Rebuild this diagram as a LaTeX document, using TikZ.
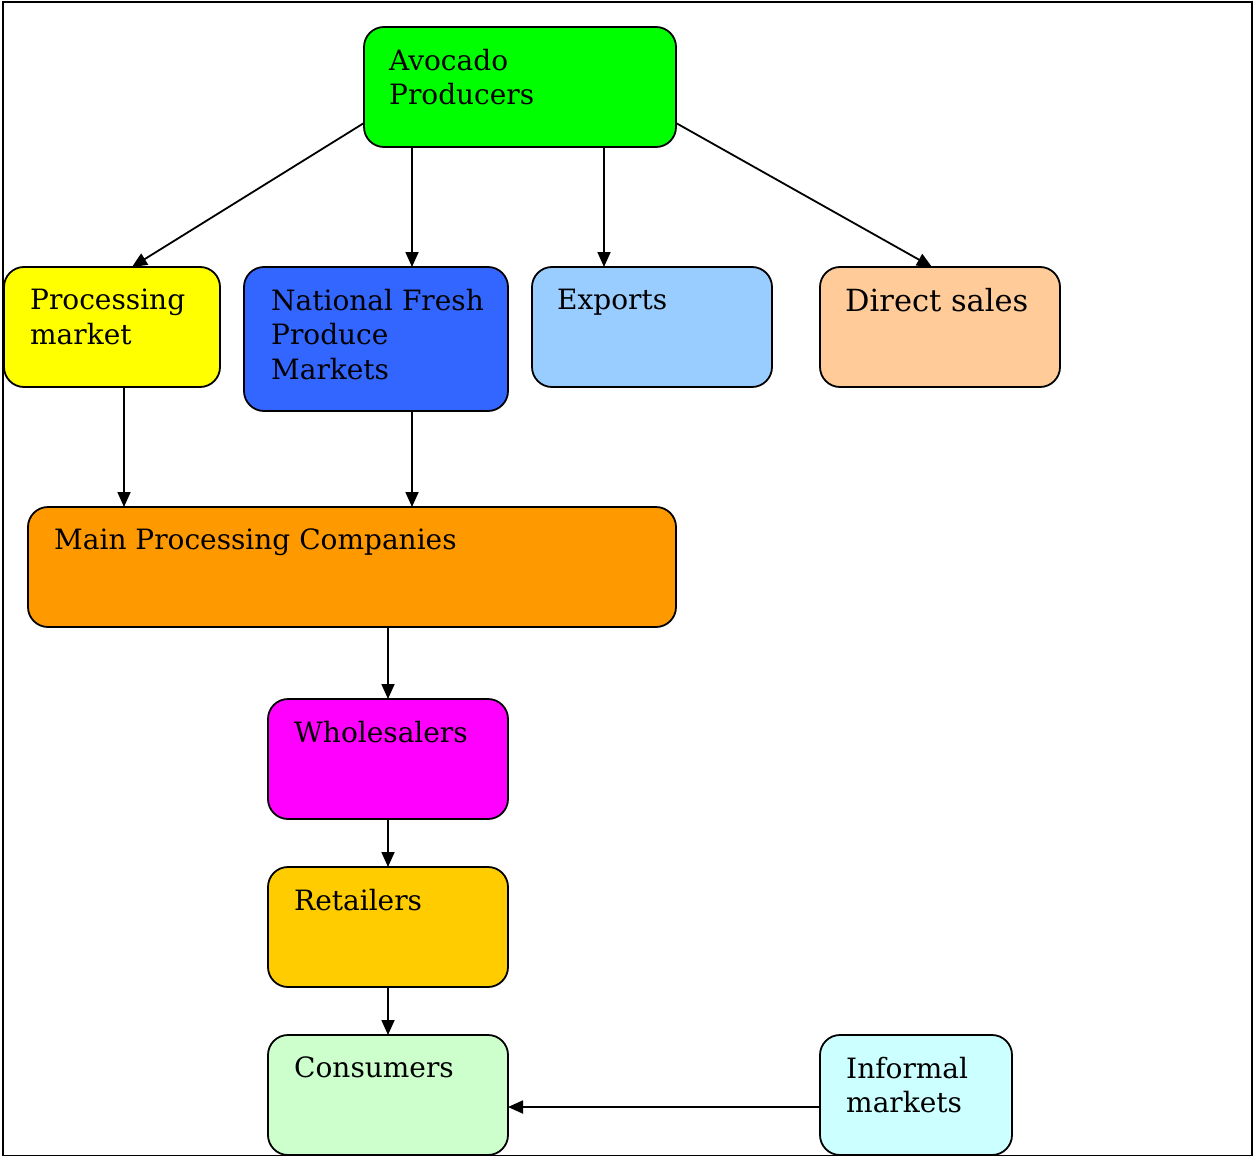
\documentclass[tikz,border=0pt]{standalone}
\usepackage{fontspec}
\setmainfont{DejaVu Serif}
\usetikzlibrary{arrows.meta}
\begin{document}
\begin{tikzpicture}[x=1pt,y=-1pt,
  box/.style={draw=black,line width=1.8pt,rounded corners=20pt,anchor=north west,inner sep=0pt,outer sep=0pt},
  lbl/.style={anchor=north west,inner sep=0pt,align=left,font=\fontsize{28}{34.5}\selectfont},
  arr/.style={line width=1.8pt,-{Triangle[length=15pt,width=13pt]}}]
\useasboundingbox (0,0) rectangle (1253,1156);
\node[draw=black,line width=1.8pt,anchor=north west,inner sep=0pt,minimum width=1249pt,minimum height=1154pt] (frame) at (2,1) {};
\definecolor{cgreen}{HTML}{00FF00}
\definecolor{cyellow}{HTML}{FFFF00}
\definecolor{cblue}{HTML}{3366FF}
\definecolor{clblue}{HTML}{99CCFF}
\definecolor{cpeach}{HTML}{FFCC99}
\definecolor{corange}{HTML}{FF9900}
\definecolor{cmag}{HTML}{FF00FF}
\definecolor{cgold}{HTML}{FFCC00}
\definecolor{cmint}{HTML}{CCFFCC}
\definecolor{ccyan}{HTML}{CCFFFF}
% boxes
\node[box,fill=cgreen,minimum width=312pt,minimum height=120pt] (avo) at (364,27) {};
\node[box,fill=cyellow,minimum width=216pt,minimum height=120pt] (proc) at (4,267) {};
\node[box,fill=cblue,minimum width=264pt,minimum height=144pt] (nat) at (244,267) {};
\node[box,fill=clblue,minimum width=240pt,minimum height=120pt] (exp) at (532,267) {};
\node[box,fill=cpeach,minimum width=240pt,minimum height=120pt] (dir) at (820,267) {};
\node[box,fill=corange,minimum width=648pt,minimum height=120pt] (main) at (28,507) {};
\node[box,fill=cmag,minimum width=240pt,minimum height=120pt] (whole) at (268,699) {};
\node[box,fill=cgold,minimum width=240pt,minimum height=120pt] (ret) at (268,867) {};
\node[box,fill=cmint,minimum width=240pt,minimum height=120pt] (cons) at (268,1035) {};
\node[box,fill=ccyan,minimum width=192pt,minimum height=120pt] (inf) at (820,1035) {};
% labels
\node[lbl] (avoT) at (389,49) {Avocado\\Producers};
\node[lbl] (procT) at (30,289) {Processing\\market};
\node[lbl] (natT) at (271,289) {National Fresh\\Produce\\Markets};
\node[lbl] (expT) at (557,289) {Exports};
\node[lbl,font=\fontsize{30.5}{34}\selectfont] (dirT) at (845,288) {Direct sales};
\node[lbl] (mainT) at (54,529) {Main Processing Companies};
\node[lbl] (wholeT) at (294,721) {Wholesalers};
\node[lbl] (retT) at (294,889) {Retailers};
\node[lbl] (consT) at (294,1057) {Consumers};
\node[lbl] (infT) at (846,1057) {Informal\\markets};
% connectors
\draw[arr] (avo.west |- 0,123) -- (proc.north -| 132,0);
\draw[arr] (avo.south -| 412,0) -- (nat.north -| 412,0);
\draw[arr] (avo.south -| 604,0) -- (exp.north -| 604,0);
\draw[arr] (avo.east |- 0,123) -- (dir.north -| 932,0);
\draw[arr] (proc.south -| 124,0) -- (main.north -| 124,0);
\draw[arr] (nat.south -| 412,0) -- (main.north -| 412,0);
\draw[arr] (main.south -| 388,0) -- (whole.north -| 388,0);
\draw[arr] (whole.south) -- (ret.north);
\draw[arr] (ret.south) -- (cons.north);
\draw[arr] (inf.west |- 0,1107) -- (cons.east |- 0,1107);
\end{tikzpicture}
\end{document}
